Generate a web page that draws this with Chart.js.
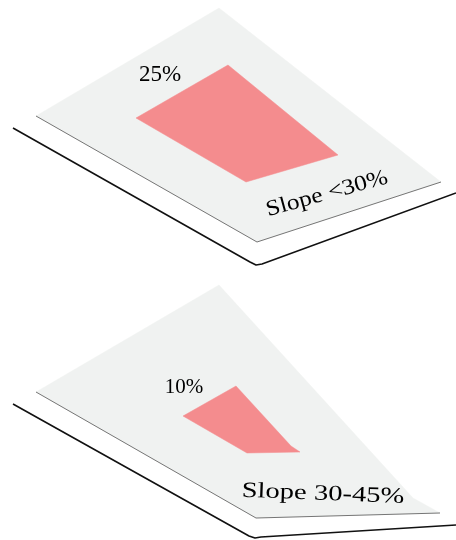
<!DOCTYPE html>
<html>
<head>
<meta charset="utf-8">
<script src="https://cdn.jsdelivr.net/npm/chart.js@4.4.0/dist/chart.umd.min.js"></script>
<style>
  body { margin: 0; background: #fff; }
  canvas { display: block; }
</style>
</head>
<body>
<canvas id="slopeChart" width="456" height="540"></canvas>
<script>
// share of area per slope class
const slopeClasses = ["Slope <30%", "Slope 30-45%"];
const shares = ["25%", "10%"];

// outlines (x, y in picture units, y down)
const basePlaneTop = [[219, 8], [441, 182], [257, 242], [36, 116], [219, 8]];
const basePlaneBottom = [[219, 285], [413, 498], [440, 513], [256, 518], [36, 392], [219, 285]];
const areaTop = [[228, 65], [338, 155], [246, 182], [136, 118], [228, 65]];
const areaBottom = [[236, 386], [291, 446], [300, 452], [247, 453], [183, 416], [236, 386]];
const edgeTop = [[36, 116], [257, 242], [441, 182]];
const edgeBottom = [[36, 392], [256, 518], [440, 513]];
const groundTop = [[13, 128], [250, 262], [256, 265], [262, 264], [456, 193]];
const groundBottom = [[13, 404], [249, 536], [255, 538], [261, 537], [456, 525]];

// label anchors: [x, y, angle deg, font px, stretch]
const shareLabelPos = [[160, 75, 23], [184, 387, 21]];
const classLabelPos = [[327, 194, -15.5, 22, 1.16], [323, 494, 2.2, 22, 1.3]];

function pts(arr) {
  return arr.map((p) => ({ x: p[0], y: p[1] }));
}

function poly(arr, color, order) {
  return {
    data: pts(arr),
    showLine: true,
    fill: "shape",
    backgroundColor: color,
    borderColor: color,
    borderWidth: 0.5,
    pointRadius: 0,
    order: order,
  };
}

function line(arr, color, width, order) {
  return {
    data: pts(arr),
    showLine: true,
    fill: false,
    borderColor: color,
    borderWidth: width,
    pointRadius: 0,
    borderJoinStyle: "round",
    order: order,
  };
}

const labelPlugin = {
  id: "labels",
  afterDatasetsDraw(chart) {
    const ctx = chart.ctx;
    const sx = chart.scales.x;
    const sy = chart.scales.y;
    ctx.save();
    ctx.fillStyle = "#000";
    ctx.textAlign = "center";
    ctx.textBaseline = "middle";
    for (let i = 0; i < shares.length; i++) {
      const p = shareLabelPos[i];
      ctx.font = p[2] + "px 'Liberation Serif'";
      ctx.fillText(shares[i], sx.getPixelForValue(p[0]), sy.getPixelForValue(p[1]));
    }
    for (let i = 0; i < slopeClasses.length; i++) {
      const p = classLabelPos[i];
      ctx.save();
      ctx.translate(sx.getPixelForValue(p[0]), sy.getPixelForValue(p[1]));
      ctx.rotate((p[2] * Math.PI) / 180);
      ctx.scale(p[4], 1);
      ctx.font = p[3] + "px 'Liberation Serif'";
      ctx.fillText(slopeClasses[i], 0, 0);
      ctx.restore();
    }
    ctx.restore();
  },
};

// lower order is drawn on top
const config = {
  type: "scatter",
  data: {
    datasets: [
      line(groundTop, "#111", 1.6, 5),
      line(groundBottom, "#111", 1.6, 5),
      poly(basePlaneTop, "#f0f2f1", 4),
      poly(basePlaneBottom, "#f0f2f1", 4),
      line(edgeTop, "#666", 0.9, 3),
      line(edgeBottom, "#666", 0.9, 3),
      poly(areaTop, "#f48c8e", 1),
      poly(areaBottom, "#f48c8e", 1),
    ],
  },
  options: {
    responsive: false,
    animation: false,
    layout: { padding: 0 },
    scales: {
      x: { type: "linear", min: 0, max: 456, display: false },
      y: { type: "linear", min: 0, max: 540, reverse: true, display: false },
    },
    plugins: {
      legend: { display: false },
      tooltip: { enabled: false },
    },
  },
  plugins: [labelPlugin],
};

const slopeChart = new Chart(document.getElementById("slopeChart"), config);
</script>
</body>
</html>
